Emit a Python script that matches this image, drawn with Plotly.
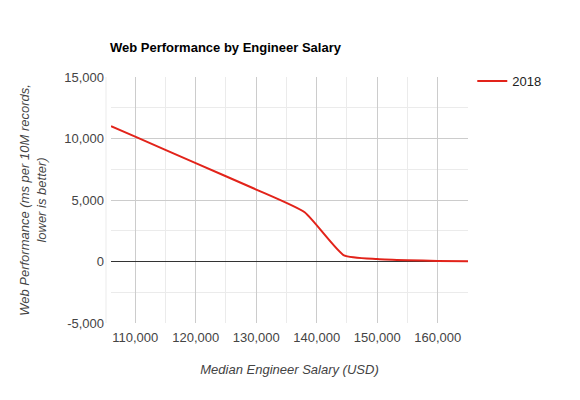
import plotly.graph_objects as go

salary = [106000, 110000, 120000, 130000, 138000, 144500, 150000, 155000, 160000, 165000]
perf_2018 = [11000, 10150, 8000, 5850, 4000, 500, 200, 100, 50, 20]
series_name = "2018"
x_ticks = [110000, 120000, 130000, 140000, 150000, 160000]
x_labels = ["110,000", "120,000", "130,000", "140,000", "150,000", "160,000"]
y_ticks = [-5000, 0, 5000, 10000, 15000]
y_labels = ["-5,000", "0", "5,000", "10,000", "15,000"]

fig = go.Figure()
fig.add_trace(go.Scatter(
    x=salary, y=perf_2018, name=series_name, mode="lines",
    line=dict(color="#e2231a", width=2, shape="spline", smoothing=0.5),
))

fnt = "Liberation Sans, Arial, sans-serif"
fig.update_layout(
    width=580, height=400,
    margin=dict(l=111, r=112, t=77, b=77),
    paper_bgcolor="white", plot_bgcolor="white",
    font=dict(family=fnt, size=13, color="#444"),
    title=dict(text="<b>Web Performance by Engineer Salary</b>", x=110/580, xanchor="left",
               y=1 - 47/400, yanchor="middle", font=dict(size=13, color="#000")),
    showlegend=True,
    legend=dict(x=1.012, xanchor="left", y=1.045, yanchor="top", font=dict(size=13, color="#222"),
                bgcolor="rgba(0,0,0,0)", tracegroupgap=0),
    xaxis=dict(range=[106000, 165000], tickvals=x_ticks, ticktext=x_labels,
               showgrid=True, gridcolor="#cccccc", gridwidth=1, zeroline=False,
               showline=False, ticks="", tickfont=dict(size=13, color="#444"),
               ticklabelstandoff=5,
               minor=dict(dtick=5000, tick0=105000, showgrid=True, gridcolor="#ebebeb", gridwidth=1),
               title=dict(text="<i>Median Engineer Salary (USD)</i>", standoff=20,
                          font=dict(size=13, color="#444"))),
    yaxis=dict(range=[-5000, 15000], tickvals=y_ticks, ticktext=y_labels,
               showgrid=True, gridcolor="#cccccc", gridwidth=1,
               zeroline=True, zerolinecolor="#333", zerolinewidth=1,
               showline=False, ticks="", tickfont=dict(size=13, color="#444"),
               ticklabelstandoff=6,
               minor=dict(dtick=2500, tick0=0, showgrid=True, gridcolor="#ebebeb", gridwidth=1),
               title=dict(text="<i>Web Performance (ms per 10M records,<br>lower is better)</i>",
                          standoff=14, font=dict(size=13, color="#444"))),
    shapes=[dict(type="line", xref="paper", yref="paper", x0=-5/357, x1=-5/357, y0=0, y1=1,
                 line=dict(color="#ebebeb", width=1))],
)

fig.write_html("out.html")
